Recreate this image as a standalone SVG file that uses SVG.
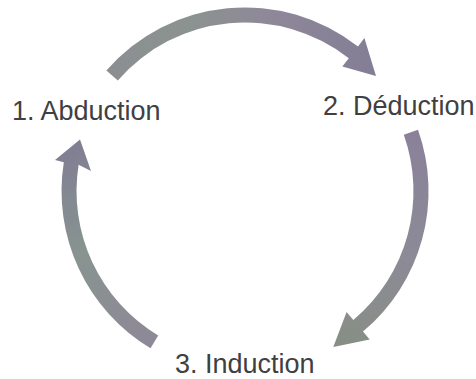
<svg xmlns="http://www.w3.org/2000/svg" width="476" height="379" viewBox="0 0 476 379">
  <style>
    .label { font-family: "Liberation Sans", Arial, sans-serif; font-size: 27px; fill: #404042; }
    .arrow { stroke: none; }
  </style>
  <defs>
    <linearGradient id="gTop" gradientUnits="userSpaceOnUse" x1="107" y1="75" x2="376" y2="70">
      <stop offset="0" stop-color="#8c8e92"/>
      <stop offset="0.3" stop-color="#8b938f"/>
      <stop offset="0.6" stop-color="#8f8899"/>
      <stop offset="1" stop-color="#837e95"/>
    </linearGradient>
    <linearGradient id="gRight" gradientUnits="userSpaceOnUse" x1="410" y1="130" x2="335" y2="345">
      <stop offset="0" stop-color="#8a8199"/>
      <stop offset="0.5" stop-color="#8c8a97"/>
      <stop offset="1" stop-color="#878f84"/>
    </linearGradient>
    <linearGradient id="gLeft" gradientUnits="userSpaceOnUse" x1="155" y1="342" x2="80" y2="140">
      <stop offset="0" stop-color="#8e8897"/>
      <stop offset="0.5" stop-color="#889490"/>
      <stop offset="1" stop-color="#807e93"/>
    </linearGradient>
  </defs>

  <g id="connectors">
    <path id="arrow-abduction-deduction" class="arrow" fill="url(#gTop)"
          d="M106.4,70.5 A183.5,183.5 0 0 1 358,46.4 L364.4,38.1 L376,76 L342.3,66.5 L348.8,58.2 A168.5,168.5 0 0 0 117.8,80.4 Z"/>
    <path id="arrow-deduction-induction" class="arrow" fill="url(#gRight)"
          d="M418,129.7 A183.5,183.5 0 0 1 363,331.6 L369.7,339.6 L333.3,347 L346.6,312 L353.3,320.1 A168.5,168.5 0 0 0 403.8,134.8 Z"/>
    <path id="arrow-induction-abduction" class="arrow" fill="url(#gLeft)"
          d="M150.5,348.3 A183.5,183.5 0 0 1 63.8,162.3 L55,160 L80,139.5 L91,171 L78.6,164.7 A168.5,168.5 0 0 0 158.2,335.4 Z"/>
  </g>

  <g id="node-abduction">
    <text class="label" x="12" y="120">1. Abduction</text>
  </g>
  <g id="node-deduction">
    <text class="label" x="323" y="115">2. Déduction</text>
  </g>
  <g id="node-induction">
    <text class="label" x="175" y="373">3. Induction</text>
  </g>
</svg>
